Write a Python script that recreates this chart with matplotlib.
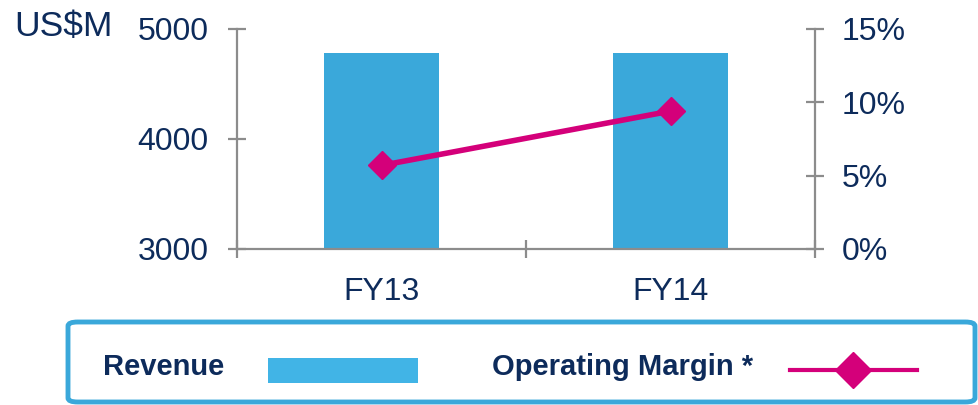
import matplotlib
matplotlib.use("Agg")
import matplotlib.pyplot as plt
from matplotlib.patches import FancyBboxPatch, Rectangle
from matplotlib.lines import Line2D
from matplotlib.ticker import FuncFormatter

years = ["FY13", "FY14"]
revenue = [4782, 4780]          # US$M
op_margin = [5.7, 9.4]          # %
rev_ticks = [3000, 4000, 5000]
margin_ticks = [0, 5, 10, 15]
legend_labels = ["Revenue", "Operating Margin *"]

NAVY = "#0d2b5b"
BAR = "#3aa8da"
LINE = "#d4007a"
AXIS = "#8c8c8c"

plt.rcParams["font.family"] = ["Liberation Sans", "DejaVu Sans"]

fig = plt.figure(figsize=(9.79, 4.05), dpi=100)
ax = fig.add_axes([0.2421, 0.3852, 0.5904, 0.5432])
ax2 = ax.twinx()

x = range(len(years))
ax.bar(x, revenue, width=0.4, color=BAR, zorder=2)
ax.set_ylim(3000, 5000)
ax.set_xlim(-0.5, 1.5)
ax.set_yticks(rev_ticks)
ax.set_xticks(list(x))
ax.set_xticklabels(years)
ax.set_xticks([-0.5, 0.5, 1.5], minor=True)

ax2.plot(x, op_margin, color=LINE, lw=4, marker="D", ms=14.5, zorder=3)
ax2.set_ylim(0, 15)
ax2.set_yticks(margin_ticks)
ax2.yaxis.set_major_formatter(FuncFormatter(lambda v, p: f"{v:.0f}%"))

for a in (ax, ax2):
    for s in a.spines.values():
        s.set_visible(False)
ax.spines["left"].set_visible(True)
ax.spines["bottom"].set_visible(True)
ax2.spines["right"].set_visible(True)
for s in (ax.spines["left"], ax.spines["bottom"], ax2.spines["right"]):
    s.set_color(AXIS)
    s.set_linewidth(1.6)

ax.tick_params(axis="y", direction="inout", length=13, width=1.6, color=AXIS,
               labelsize=23, labelcolor=NAVY, pad=14)
ax2.tick_params(axis="y", direction="inout", length=13, width=1.6, color=AXIS,
                labelsize=23, labelcolor=NAVY, pad=13)
ax.tick_params(axis="x", which="major", length=0, labelsize=23, labelcolor=NAVY, pad=20)
ax.tick_params(axis="x", which="minor", direction="inout", length=13, width=1.6, color=AXIS)

fig.text(14 / 979, 1 - 27 / 405, "US$M", fontsize=25.5, color=NAVY, va="center", ha="left")

# legend panel
fig.patches.append(FancyBboxPatch((68 / 979, 1 - 402 / 405), 907 / 979, 80 / 405,
                                  boxstyle="round,pad=0,rounding_size=0.01",
                                  transform=fig.transFigure, fc="white", ec=BAR, lw=3.5))
ly = 1 - 367 / 405
fig.text(103 / 979, ly, legend_labels[0], fontsize=21, fontweight="bold", color=NAVY,
         va="center", ha="left")
fig.patches.append(Rectangle((268 / 979, 1 - 383 / 405), 150 / 979, 25 / 405,
                             transform=fig.transFigure, fc="#41b4e6", ec="none"))
fig.text(492 / 979, ly, legend_labels[1], fontsize=21, fontweight="bold", color=NAVY,
         va="center", ha="left")
fig.lines.append(Line2D([790 / 979, 917 / 979], [1 - 370 / 405] * 2, transform=fig.transFigure,
                        color=LINE, lw=3))
fig.lines.append(Line2D([853 / 979], [1 - 370 / 405], transform=fig.transFigure,
                        color=LINE, marker="D", ms=18, lw=0))

fig.savefig("out.png", dpi=100)
